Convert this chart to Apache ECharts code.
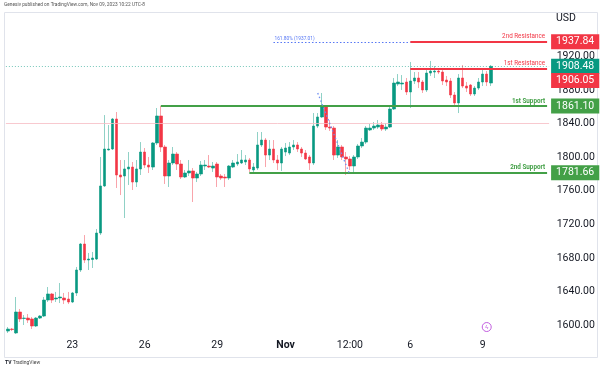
<!DOCTYPE html>
<html><head><meta charset="utf-8">
<script src="https://cdn.jsdelivr.net/npm/echarts/dist/echarts.min.js"></script>
<style>html,body{margin:0;padding:0;background:#fff}#c{width:600px;height:368px}</style>
</head><body><div id="c"></div>
<script>
// ---- data (XAU/USD 4h candles) ----
const openP  = [1592.8,1595.2,1590.5,1615.5,1607.8,1608.3,1607.2,1598.8,1608.3,1610.7,
1629.8,1637.0,1631.0,1632.2,1632.2,1631.0,1627.4,1638.2,1665.6,1696.6,
1677.5,1678.1,1678.7,1709.7,1765.8,1808.7,1809.9,1845.7,1778.9,1777.7,
1786.1,1788.4,1770.5,1786.1,1806.3,1790.8,1788.4,1817.1,1849.3,1812.3,
1777.7,1793.2,1803.9,1792.0,1776.5,1781.3,1783.7,1775.3,1780.1,1789.6,
1789.6,1787.2,1792.0,1777.7,1776.5,1775.3,1788.4,1792.0,1793.2,1794.4,
1796.8,1784.9,1787.2,1814.7,1820.6,1802.7,1809.9,1796.8,1793.2,1806.3,
1805.1,1812.3,1814.7,1809.9,1805.1,1800.4,1793.2,1837.3,1848.1,1860.0,
1836.1,1834.9,1802.7,1812.3,1800.4,1798.0,1789.6,1800.4,1813.5,1818.2,
1832.6,1834.9,1836.1,1838.5,1833.8,1836.1,1857.6,1887.4,1887.4,1889.8,
1877.9,1891.0,1894.6,1889.8,1880.3,1900.5,1901.7,1902.9,1901.7,1892.2,
1891.0,1874.3,1864.8,1894.6,1885.0,1886.2,1875.5,1882.6,1889.8,1899.3,
1888.6];
const closeP = [1595.2,1594.6,1615.5,1607.2,1608.3,1606.0,1598.8,1608.3,1610.7,1629.8,
1637.0,1629.8,1632.2,1633.4,1629.8,1627.4,1638.2,1665.6,1696.6,1677.5,
1678.7,1679.9,1709.7,1765.8,1809.9,1809.9,1845.7,1778.9,1776.5,1786.1,
1788.4,1770.5,1786.1,1806.3,1790.8,1788.4,1817.1,1849.3,1812.3,1777.7,
1793.2,1803.9,1792.0,1776.5,1781.3,1783.7,1775.3,1780.1,1790.8,1790.8,
1788.4,1789.6,1776.5,1775.3,1775.3,1789.6,1793.2,1794.4,1796.8,1796.8,
1786.1,1788.4,1814.7,1820.6,1802.7,1809.9,1796.8,1793.2,1809.9,1811.1,
1812.3,1814.7,1809.9,1805.1,1798.0,1793.2,1837.3,1848.1,1860.0,1836.1,
1834.9,1802.7,1812.3,1800.4,1798.0,1789.6,1800.4,1813.5,1818.2,1834.9,
1834.9,1837.3,1838.5,1833.8,1836.1,1857.6,1888.6,1889.8,1888.6,1877.9,
1891.0,1894.6,1889.8,1880.3,1900.5,1902.9,1902.9,1901.7,1891.0,1889.8,
1874.3,1864.8,1894.6,1885.0,1882.6,1875.5,1882.6,1889.8,1899.3,1889.8,
1908.48];
const lowP   = [1590.5,1592.8,1589.3,1603.6,1600.0,1602.4,1595.2,1597.6,1607.2,1609.5,
1627.4,1626.2,1627.4,1626.2,1625.0,1625.0,1626.2,1634.6,1663.2,1673.9,
1665.6,1668.0,1677.5,1707.3,1764.6,1808.1,1808.7,1763.4,1755.0,1727.6,
1767.0,1761.0,1764.6,1778.9,1787.2,1781.3,1784.9,1814.7,1806.3,1768.2,
1764.6,1790.8,1784.9,1774.1,1775.3,1777.7,1746.7,1770.5,1777.7,1784.9,
1787.2,1782.5,1764.6,1772.9,1764.6,1772.9,1787.2,1789.6,1792.0,1790.8,
1782.5,1782.5,1784.9,1812.3,1788.4,1796.8,1793.2,1784.9,1783.7,1801.5,
1802.7,1808.7,1806.3,1800.4,1796.8,1784.9,1790.8,1834.9,1846.9,1832.6,
1831.4,1796.8,1799.2,1796.8,1778.9,1784.9,1782.5,1798.0,1811.1,1815.9,
1831.4,1832.6,1833.8,1831.4,1831.4,1834.9,1856.4,1885.0,1880.3,1874.3,
1858.8,1887.4,1882.6,1876.7,1877.9,1897.0,1894.6,1899.3,1886.2,1885.0,
1870.7,1860.0,1852.8,1882.6,1877.9,1873.1,1873.1,1880.3,1885.0,1885.0,
1885.0];
const highP  = [1597.6,1596.4,1633.4,1619.1,1611.9,1613.1,1609.5,1609.5,1611.9,1633.4,
1645.3,1638.2,1639.4,1650.1,1638.2,1639.4,1639.4,1669.2,1697.8,1707.3,
1685.9,1687.1,1714.5,1800.4,1850.4,1838.5,1846.9,1854.0,1796.8,1796.8,
1806.3,1794.4,1796.8,1818.2,1811.1,1800.4,1818.2,1858.8,1861.1,1814.7,
1796.8,1812.3,1806.3,1796.8,1784.9,1796.8,1787.2,1782.5,1795.6,1796.8,
1802.7,1794.4,1794.4,1780.1,1780.1,1790.8,1796.8,1803.9,1808.7,1802.7,
1799.2,1793.2,1830.2,1830.2,1823.0,1820.6,1820.6,1802.7,1812.3,1817.1,
1818.2,1820.6,1818.2,1812.3,1808.7,1802.7,1852.8,1852.8,1876.7,1862.4,
1844.5,1837.3,1820.6,1814.7,1806.3,1801.5,1802.7,1815.9,1823.0,1837.3,
1839.7,1842.1,1844.5,1842.1,1840.9,1860.0,1894.6,1899.3,1898.1,1894.6,
1913.7,1901.7,1901.7,1892.2,1906.5,1914.9,1908.9,1906.5,1904.1,1897.0,
1894.6,1877.9,1899.3,1910.1,1889.8,1887.4,1885.0,1894.6,1904.1,1902.9,
1910.1];
const slotCount = 135;                 // candles + empty space on the right
const tickIdx  = [16, 34, 52, 69, 85, 100, 118];
const tickText = ['23', '26', '29', 'Nov', '12:00', '6', '9'];
const yTicks   = [1600, 1640, 1680, 1720, 1760, 1800, 1840, 1880, 1920];
const levelNames  = ['2nd Resistance', '1st Resistance', '1st Support', '2nd Support'];
const levelValues = [1937.84, 1906.05, 1861.10, 1781.66];
const levelStart  = [100, 100, 38, 60];
const lastPrice = 1908.48;
const refLine = 1841.0;
const fibLevel = 1937.01;
const fibText = '161.80% (1937.01)';
const fibRange = [66, 100];
const fibTrendIdx = [77, 85];
const fibTrendPrice = [1876.7, 1779.0];
const eventIdx = 119, eventPrice = 1597.6;

// ---- chart ----
const TEAL = '#089981', RED = '#f23645', GREEN = '#43a047', BLUE = '#5677f5';
const FONT = 'Roboto, "Liberation Sans", sans-serif';
const cats = Array.from({length: slotCount}, (_, i) => String(i));
const ohlc = openP.map((o, i) => [o, closeP[i], lowP[i], highP[i]]);
const bodies = openP.map((o, i) => [o, closeP[i], Math.min(o, closeP[i]), Math.max(o, closeP[i])]);

function box(color, dy) {
  return {show: true, position: 'end', distance: 2, formatter: p => Number(p.value).toFixed(2),
    backgroundColor: color, color: '#fff', fontSize: 10.5, fontFamily: FONT,
    padding: [2, 5, 1, 5], lineHeight: 12, offset: [0, dy || 0]};
}
const md = [];
md.push({yAxis: refLine, lineStyle: {color: '#f6bcc3', width: 1, type: 'solid', opacity: 0.8}, label: {show: false}});
md.push({yAxis: lastPrice, lineStyle: {color: 'rgba(8,153,129,0.55)', width: 1, type: [1, 2]}, label: box(TEAL, 0)});
levelValues.forEach((v, k) => {
  const col = k < 2 ? RED : GREEN;
  const ls = {color: col, width: 2, type: 'solid'};
  const lb = {show: true, position: 'insideEndTop', distance: 2, formatter: () => levelNames[k],
    color: col, fontSize: 6.3, fontWeight: k < 2 ? 'normal' : 'bold', fontFamily: FONT};
  md.push([{coord: [levelStart[k], v], lineStyle: ls, label: lb}, {coord: [slotCount - 1, v], lineStyle: ls, label: lb}]);
});
levelValues.forEach((v, k) => {
  const col = k < 2 ? RED : GREEN;
  md.push({yAxis: v, lineStyle: {color: 'transparent', width: 0}, label: box(col, k === 1 ? 12 : 0)});
});
const fls = {color: BLUE, width: 1, type: [1.5, 2]};
const flb = {show: true, position: 'insideStartTop', distance: 1, formatter: () => fibText,
  color: BLUE, fontSize: 4.8, fontFamily: FONT};
md.push([{coord: [fibRange[0], fibLevel], lineStyle: fls, label: flb}, {coord: [fibRange[1], fibLevel], lineStyle: fls, label: flb}]);
const tls = {color: '#6f8ef2', width: 1.3, type: [1.5, 2.5]};
md.push([{coord: [fibTrendIdx[0], fibTrendPrice[0]], lineStyle: tls, label: {show: false}},
         {coord: [fibTrendIdx[1], fibTrendPrice[1]], lineStyle: tls, label: {show: false}}]);

const chart = echarts.init(document.getElementById('c'), null, {renderer: 'canvas'});
chart.setOption({
  animation: false,
  backgroundColor: '#fff',
  textStyle: {fontFamily: FONT},
  grid: {left: 5.9, right: 50.9, top: 12, bottom: 30, containLabel: false},
  xAxis: {
    type: 'category', data: cats, boundaryGap: true,
    axisLine: {show: false}, axisTick: {show: false}, splitLine: {show: false},
    axisLabel: {
      interval: 0, margin: 2, color: '#131722', fontSize: 10.5, fontFamily: FONT,
      formatter: (v, i) => { const k = tickIdx.indexOf(i); if (k < 0) return ''; return tickText[k] === 'Nov' ? '{b|Nov}' : tickText[k]; },
      rich: {b: {fontWeight: 'bold', fontSize: 10.5, color: '#131722', fontFamily: FONT}}
    }
  },
  yAxis: {
    type: 'value', position: 'right', min: 1584.5, max: 1973.3,
    axisLine: {show: false}, axisTick: {show: false}, splitLine: {show: false},
    axisLabel: {customValues: yTicks, formatter: v => Number(v).toFixed(2), color: '#131722',
      fontSize: 10.5, margin: 7.6, fontFamily: FONT}
  },
  series: [
    {
      type: 'candlestick', name: 'wicks', data: ohlc, barWidth: 1, silent: true, z: 2,
      itemStyle: {color: 'rgba(8,153,129,0.45)', color0: 'rgba(242,54,69,0.45)',
        borderColor: 'rgba(8,153,129,0.45)', borderColor0: 'rgba(242,54,69,0.45)', borderWidth: 1},
      markPoint: {
        silent: true, animation: false,
        data: [{coord: [eventIdx, eventPrice], symbol: 'circle', symbolSize: 9,
          itemStyle: {color: '#fff', borderColor: '#c35fe0', borderWidth: 1},
          label: {show: true, position: 'inside', formatter: 'ϟ', color: '#c35fe0', fontSize: 6}}]
      }
    },
    {
      type: 'candlestick', name: 'bodies', data: bodies, barWidth: 3, silent: true, z: 3,
      itemStyle: {color: TEAL, color0: RED, borderColor: TEAL, borderColor0: RED, borderWidth: 0.6},
      markLine: {silent: true, symbol: ['none', 'none'], animation: false, precision: 2, z: 5, data: md}
    }
  ],
  graphic: [
    {type: 'rect', silent: true, z: -10, shape: {x: 4.5, y: 12.5, width: 593, height: 345},
      style: {fill: 'none', stroke: '#e0e3eb', lineWidth: 1}},
    {type: 'text', left: 4, top: 2, silent: true,
      style: {text: 'Genesiv published on TradingView.com, Nov 09, 2023 10:22 UTC-8', fontSize: 4.8, fill: '#555', fontFamily: FONT}},
    {type: 'text', left: 556, top: 13, silent: true,
      style: {text: 'USD', fontSize: 10.5, fill: '#131722', fontFamily: FONT}},
    {type: 'text', left: 5, top: 360, silent: true,
      style: {text: '{a|TV} TradingView', fontSize: 5, fill: '#444', fontFamily: FONT,
        rich: {a: {fontWeight: 'bold', fontSize: 5, fill: '#131722', fontFamily: FONT}}}}
  ]
});
</script></body></html>
